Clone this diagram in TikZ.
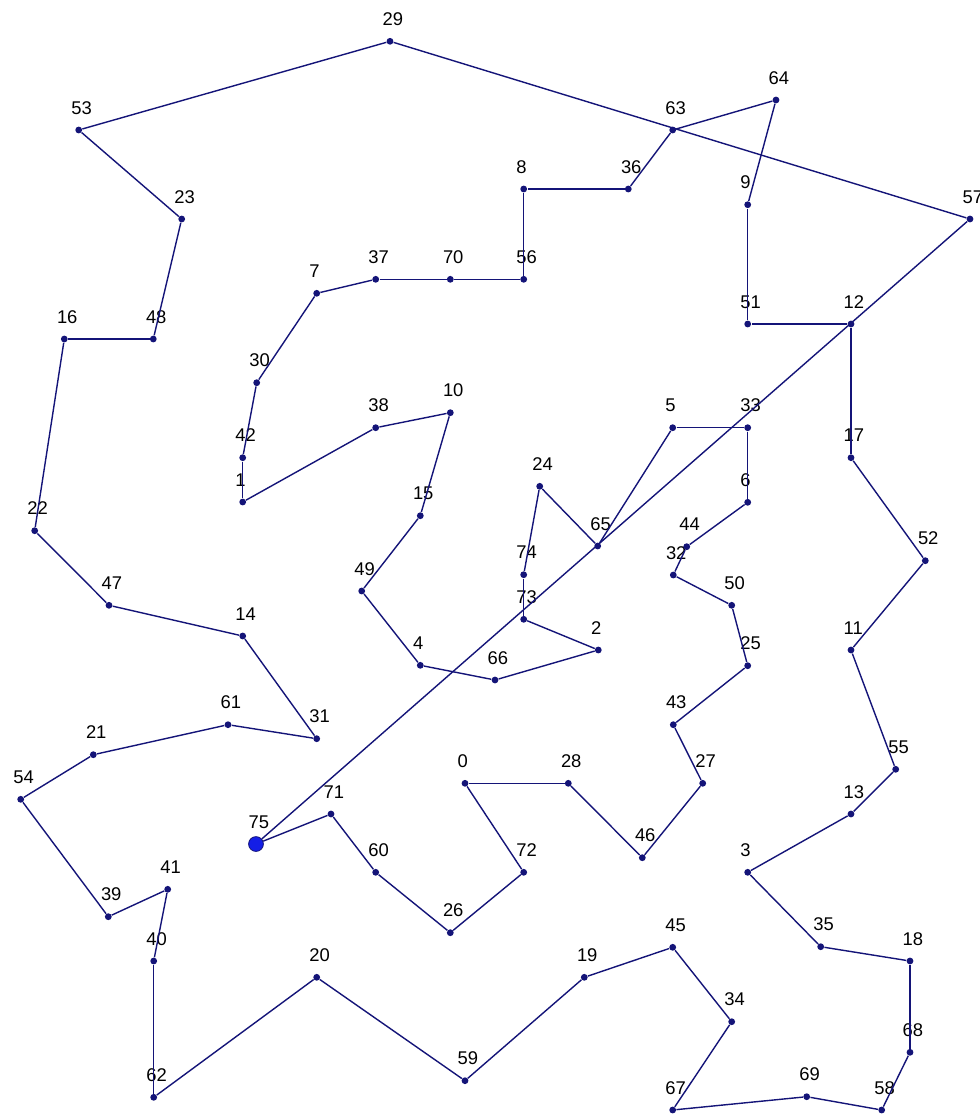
\documentclass[tikz,border=0pt]{standalone}
\usepackage{fontspec}
\setmainfont{Liberation Sans}
\definecolor{tourline}{RGB}{20,20,120}
\definecolor{startfill}{RGB}{20,30,230}
\begin{document}
\begin{tikzpicture}[x=0.5pt,y=-0.5pt,
  dot/.style={circle,fill=tourline,inner sep=0pt,minimum size=3.4pt},
  startdot/.style={circle,fill=startfill,draw=tourline,line width=0.4pt,inner sep=0pt,minimum size=7.4pt},
  edge/.style={draw=tourline,line width=0.7pt},
  lbl/.style={anchor=base west,inner sep=0pt,font=\fontsize{9.2}{10}\selectfont,text=black}]
\useasboundingbox[fill=white] (0,0) rectangle (980,1115);
\foreach \n/\x/\y in {0/465/783.3,1/242.7/502,2/598.3/650,3/747.7/872.3,4/420.3/665.3,
  5/672.7/427.7,6/747.7/502.3,7/316.7/293.3,8/523.7/189,9/747.7/204.7,10/450.3/412.7,
  11/851/650,12/851/324,13/851/814,14/242.7/636,15/420.3/515.7,16/64.3/339,17/851/457.7,
  18/910/961,19/584.3/977.3,20/316.7/977.3,21/93.3/754.7,22/34.7/530.7,23/181.7/219,
  24/539.7/486.3,25/747.7/665.7,26/450.3/932.7,27/702.7/783.3,28/568.3/783.3,29/390/41.3,
  30/256.7/382.7,31/316.7/738.7,32/673.3/575,33/747.7/427.7,34/731.7/1021.7,35/820.7/946.7,
  36/628.3/189,37/375.7/279.3,38/375.7/427.7,39/108.3/916.7,40/153.7/961,41/167.7/889.3,
  42/242.7/457.7,43/673.3/724.7,44/686.7/546.7,45/672.7/947.3,46/642.3/857.7,47/109/605.3,
  48/153.3/339,49/361.7/591,50/731.7/605.3,51/747.7/324,52/925.3/560.7,53/78.7/130,
  54/20.7/799.3,55/895.7/769.3,56/523.7/279.3,57/970/219,58/881.7/1110,59/465/1080.7,
  60/375.7/872.3,61/228/724.7,62/153.7/1097.3,63/672.7/130,64/776/100,65/597.7/546,
  66/495/680,67/672.7/1110,68/910/1052.3,69/806.7/1096.7,70/450.3/279.3,71/331/814,
  72/523.7/872.3,73/523.7/619.3,74/523.7/574.7}
{
  \node[dot] (p\n) at (\x,\y) {};
  \node[lbl] (l\n) at (\x-7.7,\y-16) {\n};
}
\node[startdot] (p75) at (256,844) {};
\node[lbl] (l75) at (256-7.7,844-16) {75};
\foreach \a/\b in {29/53,53/23,23/48,48/16,16/22,22/47,47/14,14/31,31/61,61/21,21/54,
  54/39,39/41,41/40,40/62,62/20,20/59,59/19,19/45,45/34,34/67,67/69,69/58,58/68,68/18,
  18/35,35/3,3/13,13/55,55/11,11/52,52/17,17/12,12/51,51/9,9/64,64/63,63/36,36/8,8/56,
  56/70,70/37,37/7,7/30,30/42,42/1,1/38,38/10,10/15,15/49,49/4,4/66,66/2,2/73,73/74,
  74/24,24/65,65/5,5/33,33/6,6/44,44/32,32/50,50/25,25/43,43/27,27/46,46/28,28/0,0/72,
  72/26,26/60,60/71,71/75,75/57,57/29}
{
  \draw[edge] (p\a) -- (p\b);
}
\end{tikzpicture}
\end{document}
